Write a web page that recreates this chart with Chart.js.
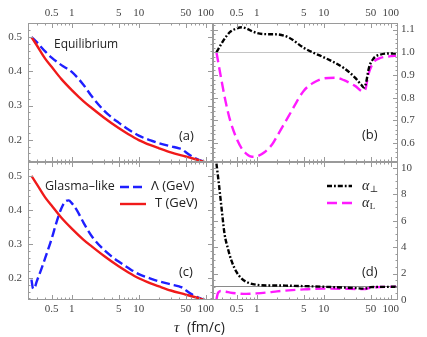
<!DOCTYPE html>
<html>
<head>
<meta charset="utf-8">
<script src="https://cdn.jsdelivr.net/npm/chart.js@4/dist/chart.umd.min.js"></script>
<style>
  html, body { margin: 0; padding: 0; background: #fff; }
  #wrap { position: relative; width: 427px; height: 337px; }
  #wrap canvas { position: absolute; left: 0; top: 0; }
</style>
</head>
<body>
<div id="wrap">
  <canvas id="panelA" width="427" height="337"></canvas>
  <canvas id="panelB" width="427" height="337"></canvas>
  <canvas id="panelC" width="427" height="337"></canvas>
  <canvas id="panelD" width="427" height="337"></canvas>
</div>
<script>
// x axis: tau (fm/c), log scale
const X_MIN = 0.222;
const X_MAX = 128;
const xMajor = [0.5, 1, 5, 10, 50, 100];
const xMinor = [0.3, 0.4, 0.6, 0.7, 0.8, 0.9, 2, 3, 4, 6, 7, 8, 9, 20, 30, 40, 60, 70, 80, 90];

// y tick labels
const gevMajor = [0.2, 0.3, 0.4, 0.5];
const alphaEqMajor = [0.6, 0.7, 0.8, 0.9, 1.0, 1.1];
const alphaGlMajor = [0, 2, 4, 6, 8, 10];

// T (GeV), same in (a) and (c)
const tauT = [0.25, 0.3, 0.4, 0.5, 0.7, 1, 1.5, 2, 3, 5, 7, 10, 15, 20, 30, 50, 70, 100, 120];
const tempT = [0.500, 0.476, 0.437, 0.413, 0.377, 0.345, 0.312, 0.292, 0.265, 0.234, 0.216, 0.199, 0.184, 0.175, 0.163, 0.151, 0.143, 0.134, 0.130];

// Lambda (GeV), equilibrium start (a)
const tauLamEq = [0.25, 0.3, 0.4, 0.5, 0.7, 1, 1.5, 2, 3, 4, 5, 7, 10, 15, 20, 30, 40, 45, 50, 60, 70, 100, 120];
const lamEq = [0.500, 0.485, 0.458, 0.440, 0.418, 0.398, 0.360, 0.326, 0.286, 0.264, 0.250, 0.230, 0.212, 0.198, 0.190, 0.181, 0.175, 0.171, 0.164, 0.153, 0.146, 0.134, 0.130];

// Lambda (GeV), glasma-like start (c)
const tauLamGl = [0.25, 0.265, 0.28, 0.3, 0.35, 0.4, 0.5, 0.6, 0.7, 0.8, 0.9, 1, 1.2, 1.5, 2, 3, 4, 5, 7, 10, 15, 20, 30, 40, 45, 50, 60, 70, 100, 120];
const lamGl = [0.195, 0.168, 0.172, 0.190, 0.225, 0.258, 0.315, 0.368, 0.405, 0.425, 0.428, 0.420, 0.398, 0.362, 0.322, 0.283, 0.262, 0.248, 0.229, 0.211, 0.198, 0.190, 0.181, 0.175, 0.171, 0.164, 0.153, 0.146, 0.134, 0.130];

// alpha_perp and alpha_L, equilibrium (b)
const tauPerpEq = [0.25, 0.3, 0.35, 0.4, 0.5, 0.6, 0.7, 0.85, 1, 1.3, 2, 3, 5, 7, 10, 20, 30, 36, 40, 43, 47, 55, 70, 100, 120];
const perpEq = [1.0, 1.04, 1.07, 1.09, 1.105, 1.11, 1.105, 1.093, 1.085, 1.08, 1.079, 1.065, 1.02, 0.998, 0.978, 0.93, 0.885, 0.858, 0.845, 0.87, 0.93, 0.972, 0.99, 0.995, 0.995];
const tauLongEq = [0.25, 0.3, 0.35, 0.4, 0.5, 0.6, 0.7, 0.85, 1, 1.3, 1.7, 2, 3, 5, 7, 10, 15, 20, 30, 38, 42, 46, 55, 70, 100, 120];
const longEq = [1.0, 0.87, 0.77, 0.70, 0.62, 0.575, 0.553, 0.54, 0.542, 0.56, 0.595, 0.63, 0.72, 0.83, 0.866, 0.885, 0.888, 0.877, 0.85, 0.828, 0.84, 0.9, 0.955, 0.975, 0.983, 0.985];

// alpha_perp and alpha_L, glasma-like (d)
const tauPerpGl = [0.25, 0.27, 0.3, 0.33, 0.37, 0.42, 0.5, 0.6, 0.75, 1, 1.5, 2, 3, 5, 10, 20, 30, 40, 45, 50, 70, 120];
const perpGl = [10.3, 8.9, 6.8, 5.0, 3.9, 2.95, 2.1, 1.6, 1.3, 1.15, 1.1, 1.1, 1.08, 1.05, 1.0, 0.94, 0.9, 0.86, 0.9, 0.97, 0.99, 1.0];
const tauLongGl = [0.25, 0.26, 0.27, 0.29, 0.35, 0.4, 0.5, 0.7, 1, 1.5, 2, 3, 5, 10, 20, 30, 40, 45, 50, 70, 120];
const longGl = [0.05, 0.45, 0.6, 0.68, 0.62, 0.56, 0.5, 0.46, 0.5, 0.58, 0.65, 0.73, 0.8, 0.86, 0.85, 0.83, 0.82, 0.87, 0.93, 0.98, 1.0];

const BLUE = "#1f1fff";
const RED = "#f01a1a";
const MAGENTA = "#ff1aff";
const BLACK = "#000000";

const BLUE_DASH = [9, 4];
const MAGENTA_DASH = [10, 5];
const DOTDASH = [5, 2, 1.8, 2];

const TICK_FONT = { family: '"Liberation Serif", "DejaVu Serif", serif', size: 11 };
const TICK_COLOR = "#444";
const FRAME_COLOR = "#9a9a9a";
const SANS = '"Open Sans", "DejaVu Sans", sans-serif';

// frame edges in the page
const BOX = { left: 28, split: 213, right: 398, top: 23, middle: 162, bottom: 300 };

function points(xs, ys) {
  return xs.map((x, i) => ({ x: x, y: ys[i] }));
}

function line(label, xs, ys, color, dash) {
  return {
    label: label,
    data: points(xs, ys),
    borderColor: color,
    borderWidth: 2.4,
    borderDash: dash || [],
    pointRadius: 0,
    fill: false,
    cubicInterpolationMode: "monotone",
  };
}

function stepTicks(min, max, step) {
  const out = [];
  const start = Math.ceil(min / step - 1e-9);
  for (let k = start; k * step <= max + 1e-9; k++) {
    out.push(Math.round(k * step * 1000) / 1000);
  }
  return out;
}

function text(ctx, str, x, y, font, align) {
  ctx.save();
  ctx.font = font;
  ctx.fillStyle = "#222";
  ctx.textAlign = align || "left";
  ctx.textBaseline = "middle";
  ctx.fillText(str, x, y);
  ctx.restore();
}

function sample(ctx, x0, x1, y, color, dash) {
  ctx.save();
  ctx.strokeStyle = color;
  ctx.lineWidth = 2.4;
  ctx.setLineDash(dash);
  ctx.beginPath();
  ctx.moveTo(x0, y);
  ctx.lineTo(x1, y);
  ctx.stroke();
  ctx.restore();
}

function alphaLabel(ctx, sub, x, y) {
  ctx.save();
  ctx.fillStyle = "#222";
  ctx.textBaseline = "middle";
  ctx.font = 'italic 14px "Liberation Serif", "DejaVu Serif", serif';
  ctx.fillText("α", x, y);
  const w = ctx.measureText("α").width;
  ctx.font = '9px "Liberation Serif", "DejaVu Serif", serif';
  ctx.fillText(sub, x + w + 0.5, y + 4);
  ctx.restore();
}

// frame plus inward tick marks on all four sides
const framePlugin = {
  id: "frameTicks",
  afterDraw(chart) {
    const { ctx, chartArea: a } = chart;
    const xs = chart.scales.x;
    const ys = chart.scales.y;
    ctx.save();
    ctx.strokeStyle = FRAME_COLOR;
    ctx.lineWidth = 1;
    ctx.strokeRect(a.left + 0.5, a.top + 0.5, a.right - a.left - 1, a.bottom - a.top - 1);
    ctx.beginPath();
    xs.ticks.forEach((t) => {
      const px = Math.round(xs.getPixelForValue(t.value)) + 0.5;
      if (px < a.left || px > a.right) return;
      const len = t.major ? 5 : 2.5;
      ctx.moveTo(px, a.top);
      ctx.lineTo(px, a.top + len);
      ctx.moveTo(px, a.bottom);
      ctx.lineTo(px, a.bottom - len);
    });
    ys.ticks.forEach((t) => {
      const py = Math.round(ys.getPixelForValue(t.value)) + 0.5;
      if (py < a.top || py > a.bottom) return;
      const len = t.major ? 5 : 2.5;
      ctx.moveTo(a.left, py);
      ctx.lineTo(a.left + len, py);
      ctx.moveTo(a.right, py);
      ctx.lineTo(a.right - len, py);
    });
    ctx.stroke();
    ctx.restore();
  },
};

function makePanel(id, cfg) {
  const isLeft = cfg.col === "left";
  const isTop = cfg.row === "top";
  const yMinor = stepTicks(cfg.yMin, cfg.yMax, cfg.yStep);
  const yAll = Array.from(new Set(yMinor.concat(cfg.yMajor))).sort((p, q) => p - q);
  const xAll = xMinor.concat(xMajor).sort((p, q) => p - q);

  return new Chart(document.getElementById(id), {
    type: "line",
    data: { datasets: cfg.datasets },
    options: {
      responsive: false,
      animation: false,
      events: [],
      layout: {
        padding: {
          left: isLeft ? 0 : BOX.split,
          right: isLeft ? 427 - BOX.split : 0,
          top: isTop ? 0 : BOX.middle,
          bottom: isTop ? 337 - BOX.middle : 0,
        },
      },
      plugins: { legend: { display: false }, tooltip: { enabled: false } },
      scales: {
        x: {
          type: "logarithmic",
          position: isTop ? "top" : "bottom",
          min: X_MIN,
          max: X_MAX,
          afterBuildTicks: (s) => {
            s.ticks = xAll.map((v) => ({ value: v, major: xMajor.includes(v) }));
          },
          afterFit: (s) => {
            s.height = isTop ? BOX.top : 337 - BOX.bottom;
          },
          ticks: {
            autoSkip: false,
            maxRotation: 0,
            padding: 3,
            font: TICK_FONT,
            color: TICK_COLOR,
            callback: (v) => (xMajor.includes(v) ? String(v) : ""),
          },
          grid: { display: false, drawTicks: false },
          border: { display: false },
        },
        y: {
          type: "linear",
          position: isLeft ? "left" : "right",
          min: cfg.yMin,
          max: cfg.yMax,
          afterBuildTicks: (s) => {
            s.ticks = yAll.map((v) => ({ value: v, major: cfg.yMajor.includes(v) }));
          },
          afterFit: (s) => {
            s.width = isLeft ? BOX.left : 427 - BOX.right;
          },
          ticks: {
            autoSkip: false,
            padding: isLeft ? 6 : 3,
            font: TICK_FONT,
            color: TICK_COLOR,
            callback: (v) => (cfg.yMajor.includes(v) ? v.toFixed(cfg.yDigits) : ""),
          },
          grid: {
            display: !!cfg.unityColor,
            drawTicks: false,
            lineWidth: 1,
            color: (c) =>
              c.tick && Math.abs(c.tick.value - 1) < 1e-9 ? cfg.unityColor : "rgba(0,0,0,0)",
          },
          border: { display: false },
        },
      },
    },
    plugins: [
      framePlugin,
      { id: "notes" + id, afterDraw: (chart) => cfg.notes(chart.ctx) },
    ],
  });
}

makePanel("panelA", {
  col: "left", row: "top",
  yMin: 0.135, yMax: 0.541, yStep: 0.02, yMajor: gevMajor, yDigits: 1,
  datasets: [
    line("T (GeV)", tauT, tempT, RED),
    line("Λ (GeV)", tauLamEq, lamEq, BLUE, BLUE_DASH),
  ],
  notes: (ctx) => {
    text(ctx, "Equilibrium", 54, 45, "12px " + SANS);
    text(ctx, "(a)", 179, 136, "13px " + SANS);
  },
});

makePanel("panelB", {
  col: "right", row: "top",
  yMin: 0.517, yMax: 1.129, yStep: 0.02, yMajor: alphaEqMajor, yDigits: 1,
  unityColor: "#c4c4c4",
  datasets: [
    line("α⊥", tauPerpEq, perpEq, BLACK, DOTDASH),
    line("αL", tauLongEq, longEq, MAGENTA, MAGENTA_DASH),
  ],
  notes: (ctx) => {
    text(ctx, "(b)", 362, 135, "13px " + SANS);
  },
});

makePanel("panelC", {
  col: "left", row: "bottom",
  yMin: 0.135, yMax: 0.541, yStep: 0.02, yMajor: gevMajor, yDigits: 1,
  datasets: [
    line("T (GeV)", tauT, tempT, RED),
    line("Λ (GeV)", tauLamGl, lamGl, BLUE, BLUE_DASH),
  ],
  notes: (ctx) => {
    text(ctx, "Glasma\u2013like", 45, 186, "12.5px " + SANS);
    sample(ctx, 120, 146, 187, BLUE, BLUE_DASH);
    text(ctx, "Λ (GeV)", 151, 186, "13px " + SANS);
    sample(ctx, 120, 146, 204, RED, []);
    text(ctx, "T (GeV)", 155, 203, "13px " + SANS);
    text(ctx, "(c)", 179, 272, "13px " + SANS);
    // shared x axis title
    ctx.save();
    ctx.fillStyle = "#222";
    ctx.textBaseline = "middle";
    ctx.font = 'italic 15px "Liberation Serif", "DejaVu Serif", serif';
    ctx.fillText("τ", 174, 328);
    ctx.font = "14px " + SANS;
    ctx.fillText("(fm/c)", 187, 328);
    ctx.restore();
  },
});

makePanel("panelD", {
  col: "right", row: "bottom",
  yMin: 0, yMax: 10.43, yStep: 0.5, yMajor: alphaGlMajor, yDigits: 0,
  unityColor: "#8a8a8a",
  datasets: [
    line("α⊥", tauPerpGl, perpGl, BLACK, DOTDASH),
    line("αL", tauLongGl, longGl, MAGENTA, MAGENTA_DASH),
  ],
  notes: (ctx) => {
    sample(ctx, 327, 352, 186, BLACK, DOTDASH);
    alphaLabel(ctx, "⊥", 362, 186);
    sample(ctx, 327, 352, 203, MAGENTA, MAGENTA_DASH);
    alphaLabel(ctx, "L", 362, 203);
    text(ctx, "(d)", 362, 272, "13px " + SANS);
  },
});
</script>
</body>
</html>
